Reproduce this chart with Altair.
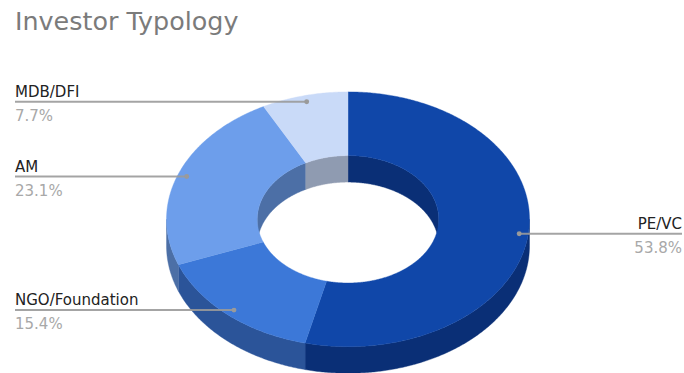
import numpy as np
import pandas as pd
import altair as alt

# Investor mix, clockwise from twelve o'clock
categories = ["PE/VC", "NGO/Foundation", "AM", "MDB/DFI"]
shares = [53.8, 15.4, 23.1, 7.7]
top_colors = ["#1047a9", "#3c78d8", "#6d9eeb", "#c9daf8"]
wall_colors = ["#0a2f76", "#2b5499", "#4c6fa6", "#8f9bb1"]
title_text = "Investor Typology"

W, H = 684, 373

# Tilted-ring geometry, in pixels
CX, CY = 348.0, 219.3
RX, RY = 181.5, 127.4
HOLE = 0.5
DEPTH = 26.5
DOT_RADIUS = 0.95


def ellipse(theta_deg, frac, drop=0.0):
    """Points on the tilted ring; theta runs clockwise from the top."""
    t = np.radians(theta_deg)
    return np.column_stack(
        [CX + RX * frac * np.sin(t), CY - RY * frac * np.cos(t) + drop]
    )


def arc(a, b, frac, drop=0.0):
    n = max(2, int(abs(b - a) * 2) + 2)
    return ellipse(np.linspace(a, b, n), frac, drop)


def feature(points, color):
    ring = np.vstack([points, points[:1]]).round(2).tolist()
    return {
        "type": "Feature",
        "properties": {"color": color},
        "geometry": {"type": "Polygon", "coordinates": [ring]},
    }


edges = np.concatenate([[0.0], np.cumsum(shares)]) * 3.6

inner_walls, outer_walls, tops = [], [], []
for i in range(len(shares)):
    a, b = edges[i], edges[i + 1]
    # Hole wall shows only along the far half of the ring
    for lo, hi in [(a, min(b, 90.0)), (max(a, 270.0), b)]:
        if hi > lo:
            inner_walls.append(
                feature(
                    np.vstack([arc(lo, hi, HOLE), arc(hi, lo, HOLE, DEPTH)]),
                    wall_colors[i],
                )
            )
    # Outer wall shows only along the near half
    lo, hi = max(a, 90.0), min(b, 270.0)
    if hi > lo:
        outer_walls.append(
            feature(
                np.vstack([arc(lo, hi, 1.0), arc(hi, lo, 1.0, DEPTH)]),
                wall_colors[i],
            )
        )
    tops.append(
        feature(np.vstack([arc(a, b, 1.0), arc(b, a, HOLE)]), top_colors[i])
    )

ring = (
    alt.Chart(alt.Data(values=inner_walls + outer_walls + tops))
    .mark_geoshape(strokeWidth=0.4)
    .encode(
        fill=alt.Fill("properties.color:N", scale=None, legend=None),
        stroke=alt.Stroke("properties.color:N", scale=None, legend=None),
    )
    .project(type="identity", scale=1, translate=[0, 0])
)

# Leader lines start from a dot near each slice's outer rim
mids = (edges[:-1] + edges[1:]) / 2
dots = ellipse(mids, DOT_RADIUS)
left_edge, right_edge = 15.0, 682.0
rows = []
for i, name in enumerate(categories):
    on_right = dots[i, 0] > CX
    rows.append(
        {
            "name": name,
            "pct": f"{shares[i]:.1f}%",
            "dot_x": dots[i, 0],
            "y": dots[i, 1],
            "end_x": right_edge if on_right else left_edge,
            "side": "right" if on_right else "left",
        }
    )
labels = pd.DataFrame(rows)

x_px = alt.Scale(domain=[0, W], range=[0, W])
y_px = alt.Scale(domain=[0, H], range=[0, H])

leaders = (
    alt.Chart(labels)
    .mark_rule(color="#9a9a9a", strokeWidth=2, opacity=0.9)
    .encode(
        x=alt.X("dot_x:Q", scale=x_px, axis=None),
        x2="end_x:Q",
        y=alt.Y("y:Q", scale=y_px, axis=None),
    )
)
dot_marks = (
    alt.Chart(labels)
    .mark_circle(color="#9a9a9a", size=24, opacity=1)
    .encode(
        x=alt.X("dot_x:Q", scale=x_px, axis=None),
        y=alt.Y("y:Q", scale=y_px, axis=None),
    )
)

text_layers = []
for side in ["left", "right"]:
    part = labels[labels["side"] == side]
    base = alt.Chart(part).encode(
        x=alt.X("end_x:Q", scale=x_px, axis=None),
        y=alt.Y("y:Q", scale=y_px, axis=None),
    )
    text_layers.append(
        base.mark_text(
            align=side, baseline="alphabetic", dy=-5, font="DejaVu Sans",
            fontSize=15, color="#222222",
        ).encode(text="name:N")
    )
    text_layers.append(
        base.mark_text(
            align=side, baseline="alphabetic", dy=19, font="DejaVu Sans",
            fontSize=15, color="#a8a8a8",
        ).encode(text="pct:N")
    )

# Heading sits inside the frame, flush with the left-hand labels
heading = (
    alt.Chart(pd.DataFrame({"title": [title_text]}))
    .mark_text(
        align="left", baseline="alphabetic", font="DejaVu Sans",
        fontSize=25.4, color="#7b7b7b",
    )
    .encode(text="title:N", x=alt.value(left_edge), y=alt.value(30))
)

chart = (
    alt.layer(ring, leaders, dot_marks, *text_layers, heading)
    .resolve_scale(x="shared", y="shared")
    .properties(
        width=W,
        height=H,
        padding=0,
        autosize=alt.AutoSizeParams(type="none"),
        background="white",
    )
    .configure_view(stroke=None)
)

chart.save("out.html", embed_options={"renderer": "svg", "actions": False})
